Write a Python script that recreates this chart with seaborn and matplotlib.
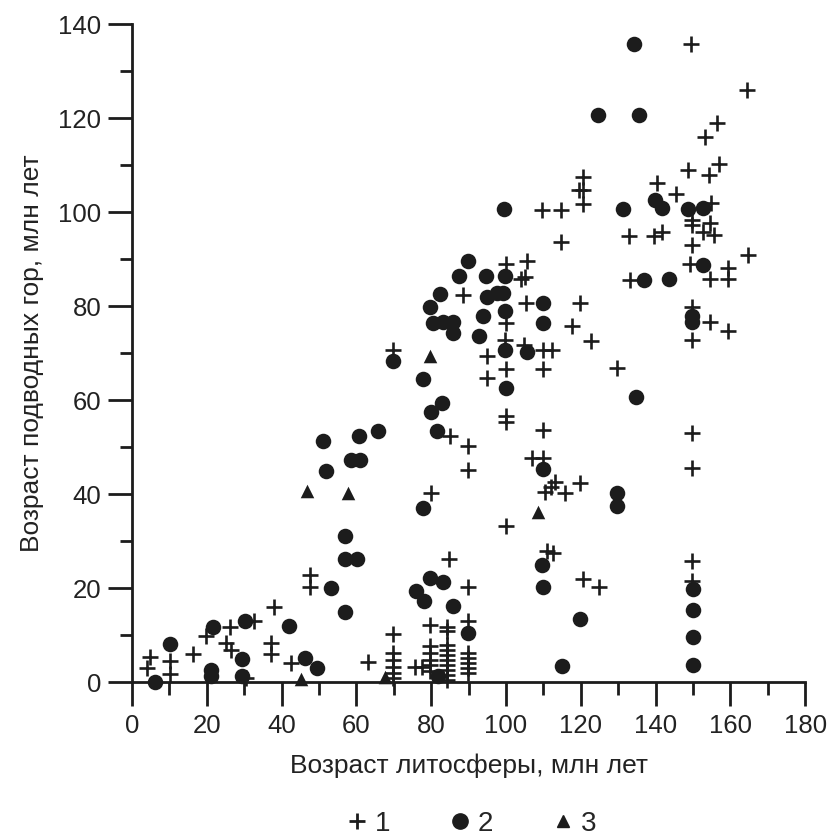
import pandas as pd
import seaborn as sns
import matplotlib.pyplot as plt
from matplotlib.lines import Line2D
from matplotlib.ticker import MultipleLocator

# group 1: crosses
x1 = [3.9, 4.9, 10.3, 10.3, 16.2, 19.7, 26.2, 25.1, 26.6, 32.6, 30.6, 37.9, 37.3, 37.3, 42.4,
      47.7, 47.7, 63.2, 69.9, 69.9, 69.9, 69.9, 69.9, 69.9, 69.9, 75.7, 77.5,
      79.7, 79.7, 79.7, 79.7, 79.7, 79.7, 79.9,
      84.2, 84.2, 84.2, 84.2, 84.2, 84.2, 84.2, 84.2, 84.2, 84.2, 84.9, 85.0, 88.6,
      89.8, 89.9, 89.9, 89.9, 89.9, 89.9, 89.9, 89.8, 89.8, 95.0, 95.0,
      99.9, 100.0, 100.0, 100.0, 99.8, 100.0, 100.0, 104.0, 105.0, 104.7, 105.4, 105.6, 106.9,
      109.6, 109.9, 109.9, 109.9, 110.0, 112.3, 110.5, 112.0, 113.0, 115.8, 119.8,
      110.9, 112.7, 114.7, 114.7, 117.6, 119.8, 120.5, 120.5, 120.5, 119.5,
      120.6, 125.0, 122.7, 129.7, 132.8, 133.2, 139.5, 141.7, 140.4, 145.5, 148.6, 149.5,
      149.7, 149.7, 149.7, 149.3, 149.7, 149.7, 149.7, 149.7, 149.7, 149.8,
      152.7, 154.6, 155.7, 154.8, 153.3, 156.4, 156.9, 154.4, 154.6, 154.6,
      159.5, 159.5, 159.5, 164.5, 164.6]
y1 = [3.0, 5.4, 4.4, 1.8, 6.0, 9.9, 11.8, 8.3, 6.9, 12.9, 0.8, 15.9, 8.3, 6.0, 4.0,
      22.8, 20.2, 4.2, 10.3, 6.2, 4.7, 3.3, 1.9, 0.9, 70.6, 3.3, 3.3,
      12.2, 7.6, 6.2, 4.7, 3.7, 2.3, 40.3,
      11.8, 10.8, 7.9, 6.9, 5.8, 4.7, 3.7, 2.6, 1.6, 0.5, 26.2, 52.4, 82.4,
      20.3, 12.9, 6.2, 5.1, 4.1, 3.0, 1.9, 50.3, 45.2, 69.5, 64.7,
      33.3, 56.7, 55.4, 66.6, 72.8, 76.4, 89.0, 85.7, 86.3, 71.8, 80.6, 89.7, 47.7,
      100.5, 66.6, 53.7, 47.7, 70.6, 70.6, 40.5, 41.5, 42.5, 40.2, 42.3,
      27.8, 27.4, 100.5, 93.7, 75.7, 80.6, 107.6, 104.7, 101.8, 104.7,
      22.0, 20.3, 72.5, 66.8, 95.0, 85.6, 95.0, 95.9, 106.2, 103.9, 108.9, 135.9,
      98.4, 97.3, 93.0, 89.0, 79.9, 72.8, 53.0, 45.5, 25.7, 21.5,
      95.9, 97.8, 95.2, 102.0, 116.0, 118.9, 110.3, 107.9, 85.7, 76.7,
      88.1, 85.7, 74.8, 126.0, 90.9]

# group 2: circles
x2 = [6.1, 10.1, 21.7, 21.1, 21.1, 29.3, 29.3, 30.2, 42.0, 46.2, 49.4, 51.0, 52.0, 53.2,
      56.9, 56.9, 60.1, 56.9, 58.7, 60.9, 60.8, 65.8, 69.9, 75.9, 78.1, 77.9, 77.9,
      79.7, 83.1, 79.9, 82.8, 81.6, 79.7, 80.6, 83.2, 85.9, 85.9, 81.9, 82.5, 85.9,
      87.5, 89.8, 89.9, 92.9, 93.8, 94.7, 99.8, 94.9, 97.5, 99.3, 99.5, 99.8, 99.8,
      100.0, 105.6, 109.9, 109.9, 109.9, 109.6, 110.0, 114.9, 119.8, 124.5, 129.8, 129.8,
      131.4, 134.3, 134.8, 135.5, 136.8, 139.9, 141.7, 143.7, 148.8, 152.7, 149.7, 149.7,
      149.9, 149.9, 149.9, 149.9, 152.7]
y2 = [0.0, 8.1, 11.8, 2.6, 1.2, 5.0, 1.2, 12.9, 12.0, 5.1, 3.0, 51.4, 45.0, 20.0,
      31.0, 26.2, 26.2, 15.0, 47.2, 47.2, 52.4, 53.5, 68.4, 19.3, 17.2, 37.0, 64.5,
      22.1, 21.4, 57.4, 59.5, 53.5, 79.8, 76.4, 76.7, 76.7, 74.3, 1.2, 82.6, 16.2,
      86.4, 89.7, 10.4, 73.7, 77.9, 86.4, 86.4, 81.9, 82.8, 82.8, 100.6, 78.9, 70.7,
      62.6, 70.3, 80.6, 76.5, 45.3, 25.0, 20.3, 3.5, 13.4, 120.7, 40.3, 37.4,
      100.6, 135.9, 60.6, 120.7, 85.6, 102.6, 100.9, 85.7, 100.6, 100.9, 76.7, 78.0,
      19.8, 15.4, 9.5, 3.7, 88.8]

# group 3: triangles
x3 = [45.2, 46.8, 57.8, 67.6, 79.7, 108.7]
y3 = [0.6, 40.6, 40.2, 1.1, 69.5, 36.1]

ink = '#1c1c1c'
sns.set_style('ticks')
plt.rcParams['font.family'] = ['Liberation Sans', 'DejaVu Sans']

fig = plt.figure(figsize=(8.3, 8.39), dpi=100)
ax = fig.add_axes([0.159, 0.187, 0.811, 0.784])

sns.scatterplot(x=x1, y=y1, marker='+', s=120, linewidth=1.9, color=ink, ax=ax, clip_on=False, zorder=3)
sns.scatterplot(x=x2, y=y2, marker='o', s=125, linewidth=0, color=ink, ax=ax, clip_on=False, zorder=3)
sns.scatterplot(x=x3, y=y3, marker='^', s=95, linewidth=0, color=ink, ax=ax, clip_on=False, zorder=3)

ax.set_xlim(0, 180)
ax.set_ylim(0, 140)
ax.xaxis.set_major_locator(MultipleLocator(20))
ax.xaxis.set_minor_locator(MultipleLocator(10))
ax.yaxis.set_major_locator(MultipleLocator(20))
ax.yaxis.set_minor_locator(MultipleLocator(10))
sns.despine(ax=ax)
for s in ['left', 'bottom']:
    ax.spines[s].set_linewidth(2)
    ax.spines[s].set_color(ink)
ax.tick_params(which='major', length=17, width=2, color=ink, labelsize=18.5, labelcolor='#222222')
ax.tick_params(which='minor', length=9, width=2, color=ink)
ax.tick_params(axis='x', which='major', pad=6)
ax.tick_params(axis='y', which='major', pad=5)

ax.set_xlabel('Возраст литосферы, млн лет', fontsize=19, color='#222222', labelpad=11)
ax.set_ylabel('Возраст подводных гор, млн лет', fontsize=19, color='#222222', labelpad=10)

handles = [
    Line2D([], [], marker='+', linestyle='', markersize=11, markeredgewidth=2, color=ink),
    Line2D([], [], marker='o', linestyle='', markersize=11, color=ink),
    Line2D([], [], marker='^', linestyle='', markersize=9, color=ink),
]
fig.legend(handles, ['1', '2', '3'], loc='center', bbox_to_anchor=(0.566, 0.018), ncol=3,
           frameon=False, fontsize=20, handletextpad=0.15, columnspacing=2.0, handlelength=1.0)

plt.savefig('out.png', dpi=100)
